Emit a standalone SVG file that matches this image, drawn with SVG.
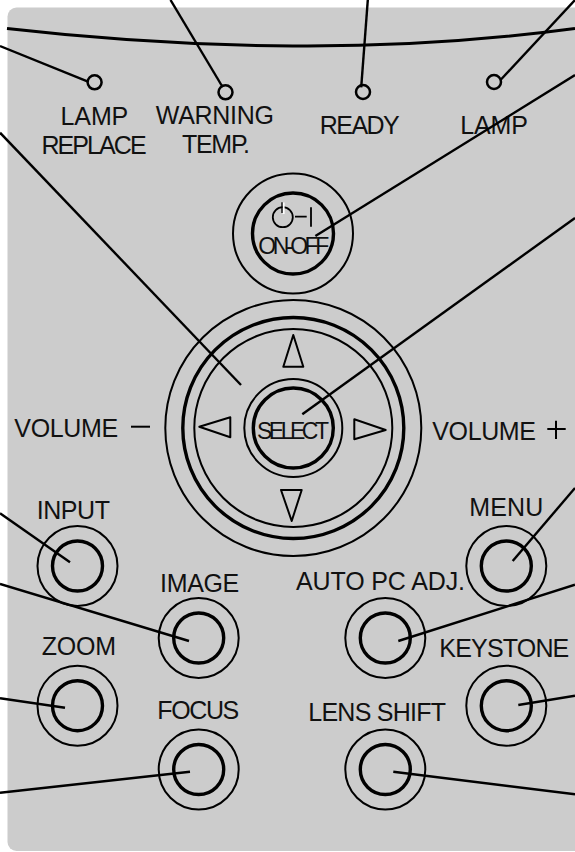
<svg xmlns="http://www.w3.org/2000/svg" width="575" height="852" viewBox="0 0 575 852">
<style>
text{font-family:"Liberation Sans",Arial,sans-serif;font-size:25px;fill:#111}
.o{fill:none;stroke:#000;stroke-width:2}
.l{fill:none;stroke:#000;stroke-width:2.5}
.i{fill:none;stroke:#000;stroke-width:3.4}
.c{fill:none;stroke:#000;stroke-width:2.4;stroke-linecap:butt}
.t{font-size:23px}
.a{fill:none;stroke:#000;stroke-width:2;stroke-linejoin:round}
</style>
<rect width="575" height="852" fill="#fff"/>
<rect id="panel" x="7.5" y="7.5" width="600" height="843.5" rx="9" fill="#ccc"/>
<path id="edge" d="M7 28.5Q150 45 293 46T575 28.5" fill="none" stroke="#000" stroke-width="3"/>
<g id="led-replace"><circle class="l" cx="94.6" cy="82.3" r="7"/><text x="60.5" y="125" textLength="67.8">LAMP</text><text x="41.4" y="154" textLength="105.3">REPLACE</text></g>
<g id="led-warning"><circle class="l" cx="225.5" cy="92.3" r="7"/><text x="155.8" y="124" textLength="118.2">WARNING</text><text x="182" y="152.7" textLength="68">TEMP.</text></g>
<g id="led-ready"><circle class="l" cx="363" cy="92" r="7"/><text x="319.8" y="134.3" textLength="79.9">READY</text></g>
<g id="led-lamp"><circle class="l" cx="494" cy="82" r="7"/><text x="460.2" y="134" textLength="67.8">LAMP</text></g>
<g id="btn-power">
<circle class="o" cx="293" cy="233.5" r="60"/><circle class="i" cx="293" cy="233.5" r="40.5"/>
<circle cx="282.8" cy="217.2" r="10" fill="none" stroke="#000" stroke-width="1.8"/>
<path d="M283.6 202.5V214" stroke="#fff" stroke-width="2" fill="none"/><path d="M282 202.3V213" stroke="#000" stroke-width="1.3" fill="none"/>
<path d="M295 216.7H306.7M311 207.3V226.7" stroke="#000" stroke-width="1.8" fill="none"/>
<text class="t" x="258.3" y="254" textLength="71">ON-OFF</text>
</g>
<g id="btn-pad">
<circle class="o" cx="293.3" cy="428" r="128"/><circle class="i" cx="293.3" cy="428" r="110.5"/><circle class="o" cx="293.3" cy="428" r="99"/>
<circle class="o" cx="293.3" cy="428" r="49"/><circle class="i" cx="293.3" cy="428" r="40"/>
<path class="a" d="M283.3 366.7H303.3L293.3 335Z"/><path class="a" d="M281 490H301.7L291.7 521Z"/><path class="a" d="M199.3 426.7L230.3 417.3V437.3Z"/><path class="a" d="M354.3 419.3V439.3L385.7 430Z"/>
<text class="t" x="257" y="438.7" textLength="72">SELECT</text>
</g>
<g id="vol-minus"><text x="14.3" y="436.7" textLength="104">VOLUME</text><path d="M131 426.7H150" stroke="#000" stroke-width="2"/></g>
<g id="vol-plus"><text x="432.3" y="440" textLength="103.7">VOLUME</text><path d="M547.3 429H565.7M556 420.7V439" stroke="#000" stroke-width="2"/></g>
<g id="btn-input"><circle class="o" cx="77.5" cy="566" r="40"/><circle class="i" cx="77.5" cy="566" r="25"/><text x="36.7" y="519.3" textLength="73.3">INPUT</text></g>
<g id="btn-image"><circle class="o" cx="198.7" cy="638" r="40"/><circle class="i" cx="198.7" cy="638" r="25"/><text x="160" y="591.7" textLength="79.3">IMAGE</text></g>
<g id="btn-zoom"><circle class="o" cx="77.5" cy="705.7" r="40"/><circle class="i" cx="77.5" cy="705.7" r="25"/><text x="41.7" y="655.3" textLength="74.3">ZOOM</text></g>
<g id="btn-focus"><circle class="o" cx="198.7" cy="769.5" r="40"/><circle class="i" cx="198.7" cy="769.5" r="25"/><text x="157.3" y="719.3" textLength="82">FOCUS</text></g>
<g id="btn-menu"><circle class="o" cx="506.3" cy="566" r="40"/><circle class="i" cx="506.3" cy="566" r="25"/><text x="469.3" y="515.7" textLength="74">MENU</text></g>
<g id="btn-auto"><circle class="o" cx="385.3" cy="638" r="40"/><circle class="i" cx="385.3" cy="638" r="25"/><text x="296" y="590" textLength="169">AUTO PC ADJ.</text></g>
<g id="btn-keystone"><circle class="o" cx="506.3" cy="705.7" r="40"/><circle class="i" cx="506.3" cy="705.7" r="25"/><text x="439.3" y="656.7" textLength="130">KEYSTONE</text></g>
<g id="btn-lens"><circle class="o" cx="385.3" cy="769.5" r="40"/><circle class="i" cx="385.3" cy="769.5" r="25"/><text x="308.3" y="721" textLength="137.7">LENS SHIFT</text></g>
<g id="connectors">
<path class="c" d="M0 46L88 81.7"/>
<path class="c" d="M170.5 0L222.6 87"/>
<path class="c" d="M367.8 0L361.2 87.3"/>
<path class="c" d="M575 0L500.5 80"/>
<path class="c" d="M315.4 236L575 75"/>
<path class="c" d="M302.3 414.3L575 218"/>
<path class="c" d="M0 132.7L241 385"/>
<path class="c" d="M0 513.3L70 562.3"/>
<path class="c" d="M0 584L189 641"/>
<path class="c" d="M0 698.3L65 707.7"/>
<path class="c" d="M0 792.7L190 771.7"/>
<path class="c" d="M512.7 561L575 488"/>
<path class="c" d="M398.3 641L575 584.7"/>
<path class="c" d="M518.3 705L575 695.7"/>
<path class="c" d="M393.3 771.7L575 794.3"/>
</g>
</svg>
